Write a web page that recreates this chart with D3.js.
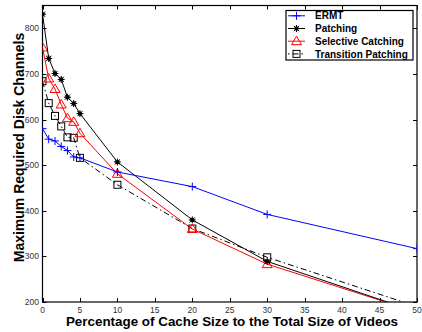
<!DOCTYPE html>
<html>
<head>
<meta charset="utf-8">
<script src="https://cdn.jsdelivr.net/npm/d3@7"></script>
<style>
  html, body { margin: 0; padding: 0; background: #fff; }
  svg { display: block; }
  text { font-family: "Liberation Sans", Arial, Helvetica, sans-serif; }
</style>
</head>
<body>
<svg id="chart" width="422" height="332"></svg>
<script>
// Cache size (% of total video size) on the x axis
const cachePct = [0, 0.83, 1.67, 2.5, 3.33, 4.17, 5, 10, 20, 30, 50];

// Maximum required disk channels per scheme
const ermt       = [580, 557, 553, 541, 532, 518, 516, 485, 453, 392, 317];
const patching   = [831, 734, 701, 688, 649, 635, 613, 507, 380, 289, 178];
const selective  = [758, 690, 667, 633, 603, 595, 570, 481, 360, 283, 178];
const transition = [684, 636, 608, 585, 561, 560, 516, 457, 361, 298, 190];

const seriesNames = ["ERMT", "Patching", "Selective Catching", "Transition Patching"];
const xTicks = [0, 5, 10, 15, 20, 25, 30, 35, 40, 45, 50];
const yTicks = [200, 300, 400, 500, 600, 700, 800];

const series = [
  { name: seriesNames[0], values: ermt,       color: "#0000ff", marker: "plus",     dash: null },
  { name: seriesNames[1], values: patching,   color: "#000000", marker: "star",     dash: null },
  { name: seriesNames[2], values: selective,  color: "#ff0000", marker: "triangle", dash: null },
  { name: seriesNames[3], values: transition, color: "#000000", marker: "square",   dash: "6,3,1.5,3" }
];

const svg = d3.select("#chart");
const plotL = 42.5, plotR = 417, plotT = 5.5, plotB = 302;

const x = d3.scaleLinear().domain([0, 50]).range([plotL, plotR]);
const y = d3.scaleLinear().domain([200, 850]).range([plotB, plotT]);

svg.append("defs").append("clipPath").attr("id", "plotClip")
  .append("rect").attr("x", plotL).attr("y", plotT)
  .attr("width", plotR - plotL).attr("height", plotB - plotT);

// Frame with inward ticks on all four sides
const tickLen = 4;
const axisG = svg.append("g").attr("stroke", "#000").attr("stroke-width", 1);
xTicks.forEach(t => {
  const px = Math.round(x(t)) + 0.5;
  axisG.append("line").attr("x1", px).attr("x2", px).attr("y1", plotB).attr("y2", plotB - tickLen);
  axisG.append("line").attr("x1", px).attr("x2", px).attr("y1", plotT).attr("y2", plotT + tickLen);
});
yTicks.forEach(t => {
  const py = Math.round(y(t)) + 0.5;
  axisG.append("line").attr("x1", plotL).attr("x2", plotL + tickLen).attr("y1", py).attr("y2", py);
  axisG.append("line").attr("x1", plotR).attr("x2", plotR - tickLen).attr("y1", py).attr("y2", py);
});
svg.append("rect").attr("x", plotL).attr("y", plotT)
  .attr("width", plotR - plotL).attr("height", plotB - plotT)
  .attr("fill", "none").attr("stroke", "#000").attr("stroke-width", 1.2);

// Tick labels
svg.append("g").selectAll("text").data(xTicks).join("text")
  .attr("x", d => x(d)).attr("y", plotB + 11)
  .attr("text-anchor", "middle").attr("font-size", 8.5).attr("fill", "#333")
  .text(d => d);
svg.append("g").selectAll("text").data(yTicks).join("text")
  .attr("x", plotL - 3.5).attr("y", d => y(d) + 3)
  .attr("text-anchor", "end").attr("font-size", 8.5).attr("fill", "#333")
  .text(d => d);

// Axis titles
svg.append("text").attr("x", 232).attr("y", 325.5)
  .attr("text-anchor", "middle").attr("font-size", 13.4).attr("font-weight", "bold")
  .text("Percentage of Cache Size to the Total Size of Videos");
svg.append("text")
  .attr("transform", "translate(24,147.5) rotate(-90)")
  .attr("text-anchor", "middle").attr("font-size", 14).attr("font-weight", "bold")
  .text("Maximum Required Disk Channels");

// Marker drawing
function drawMarker(g, type, color, cx, cy) {
  if (type === "plus") {
    g.append("path").attr("d", `M${cx - 4},${cy}H${cx + 4}M${cx},${cy - 4}V${cy + 4}`)
      .attr("stroke", color).attr("stroke-width", 1).attr("fill", "none");
  } else if (type === "star") {
    g.append("circle").attr("cx", cx).attr("cy", cy).attr("r", 2.2).attr("fill", color);
    g.append("path").attr("d",
      `M${cx - 3.5},${cy}H${cx + 3.5}M${cx},${cy - 3.5}V${cy + 3.5}` +
      `M${cx - 2.6},${cy - 2.6}L${cx + 2.6},${cy + 2.6}M${cx - 2.6},${cy + 2.6}L${cx + 2.6},${cy - 2.6}`)
      .attr("stroke", color).attr("stroke-width", 1).attr("fill", "none");
  } else if (type === "triangle") {
    g.append("path").attr("d", `M${cx},${cy - 5}L${cx + 5},${cy + 3.5}L${cx - 5},${cy + 3.5}Z`)
      .attr("stroke", color).attr("stroke-width", 1).attr("fill", "none");
  } else if (type === "square") {
    g.append("rect").attr("x", cx - 3.5).attr("y", cy - 3.5).attr("width", 7).attr("height", 7)
      .attr("stroke", color).attr("stroke-width", 1).attr("fill", "none");
  }
}

// Series lines and markers, clipped to the plot area
const plot = svg.append("g").attr("clip-path", "url(#plotClip)");
const line = d3.line().x((d, i) => x(cachePct[i])).y(d => y(d));
// draw in reverse so ERMT stays on top
[...series].reverse().forEach(s => {
  plot.append("path").datum(s.values).attr("d", line)
    .attr("fill", "none").attr("stroke", s.color).attr("stroke-width", 1)
    .attr("stroke-dasharray", s.dash);
  const mg = plot.append("g");
  s.values.forEach((v, i) => drawMarker(mg, s.marker, s.color, x(cachePct[i]), y(v)));
});

// Legend
const lg = svg.append("g");
lg.append("rect").attr("x", 286).attr("y", 10.5).attr("width", 127).attr("height", 49.5)
  .attr("fill", "#fff").attr("stroke", "#000").attr("stroke-width", 1.2);
series.forEach((s, i) => {
  const ly = 15.8 + i * 12.7;
  lg.append("line").attr("x1", 288).attr("x2", 305).attr("y1", ly).attr("y2", ly)
    .attr("stroke", s.color).attr("stroke-width", 1)
    .attr("stroke-dasharray", s.dash ? "1.5,3,6,3" : null);
  drawMarker(lg, s.marker, s.color, 296.5, ly);
  lg.append("text").attr("x", 315).attr("y", ly + 3.6)
    .attr("font-size", 10).attr("font-weight", "bold").text(s.name);
});
</script>
</body>
</html>
